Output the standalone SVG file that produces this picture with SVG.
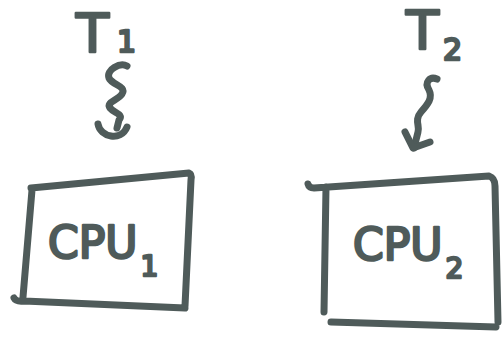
<svg xmlns="http://www.w3.org/2000/svg" width="503" height="339" viewBox="0 0 503 339">
<style>
.line{fill:none;stroke:#4f5b5a;stroke-width:7;stroke-linecap:round;stroke-linejoin:round}
.lbl{fill:#4f5b5a;stroke:#4f5b5a;stroke-width:2.5;stroke-linejoin:round;font-family:"DejaVu Sans","Liberation Sans",sans-serif}
</style>
<rect width="503" height="339" fill="#ffffff"/>
<g id="T1">
<text class="lbl" x="76" y="52" font-size="54">T<tspan font-size="30" dx="8" dy="0">1</tspan></text>
</g>
<g id="T2">
<text class="lbl" x="406" y="49" font-size="54">T<tspan font-size="30" dx="4" dy="11">2</tspan></text>
</g>
<g id="CPU1">
<path class="line" d="M31,188 L189,173 Q192,174 191,180 L185,306 M32,190 L23,297 M14,298 Q16,302 24,301 L185,308"/>
<text class="lbl" x="48" y="258" font-size="44">CPU<tspan font-size="28" dx="3" dy="18">1</tspan></text>
</g>
<g id="CPU2">
<path class="line" d="M308,184 Q309,188 314,188 L489,176 Q495,178 495,186 L498,322 M326,187 L324,312 M331,322 L496,327"/>
<text class="lbl" x="353" y="260" font-size="44">CPU<tspan font-size="28" dx="3" dy="18">2</tspan></text>
</g>
<g id="connectors">
<path class="line" d="M127,66 C120,62 106,70 109,78 C112,85 127,86 122,94 C117,101 106,102 110,108 C114,113 124,114 119,120 L117,128"/>
<path class="line" d="M98,124 C100,137 121,142 127,127"/>
<path class="line" d="M437,79 C430,76 424,82 429,90 C433,98 428,104 421,112 C414,120 420,126 418,132 L414,148"/>
<path class="line" d="M405,132 L413,148 L430,142"/>
</g>
</svg>
